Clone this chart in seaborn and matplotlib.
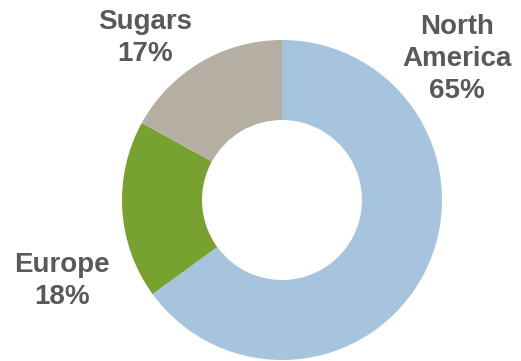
import matplotlib
matplotlib.use('Agg')
import matplotlib.pyplot as plt
import seaborn as sns

# Data
categories = ['North America', 'Europe', 'Sugars']
shares = [65, 18, 17]
label_lines = ['North\nAmerica', 'Europe', 'Sugars']
colors = ['#A7C4DF', '#77A22F', '#B5AEA2']

sns.set_theme(style='white')
plt.rcParams['font.family'] = ['Liberation Sans', 'DejaVu Sans']

W, H = 521, 361
fig = plt.figure(figsize=(W / 100, H / 100), dpi=100)

# donut centre ~ (282, 200) px, outer radius ~160 px
cx, cy, r = 282, 200, 160
ax = fig.add_axes([(cx - r) / W, (H - cy - r) / H, 2 * r / W, 2 * r / H])
ax.pie(shares, colors=colors, startangle=90, counterclock=False,
       radius=1.0, wedgeprops=dict(width=0.5, edgecolor='none'))
ax.set_xlim(-1, 1)
ax.set_ylim(-1, 1)
ax.set_aspect('equal')
ax.axis('off')

# outside labels (pixel positions of label centres)
label_pos = {'North America': (457, 59), 'Europe': (62, 281), 'Sugars': (145, 38)}
for cat, lines, val in zip(categories, label_lines, shares):
    x, y = label_pos[cat]
    fig.text(x / W, 1 - y / H, f'{lines}\n{val}%', ha='center', va='center',
             fontsize=20, fontweight='bold', color='#595959', linespacing=1.3)

fig.savefig('out.png', dpi=100)
